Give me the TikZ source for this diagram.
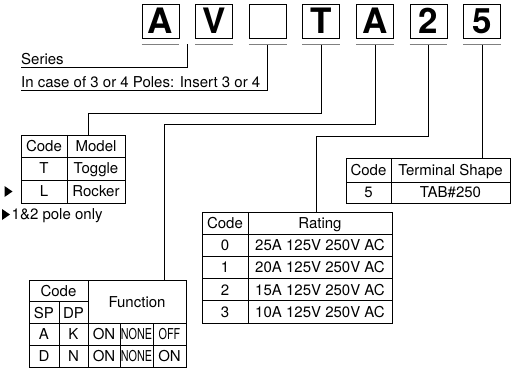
\documentclass[tikz,border=0pt]{standalone}
\usepackage{fontspec}
\setmainfont{TeX Gyre Heros}
\usetikzlibrary{positioning}

\tikzset{
  letterbox/.style={draw, line width=0.8pt, minimum width=37pt, minimum height=34pt, inner sep=0pt, font=\fontsize{35}{35}\selectfont\bfseries},
  cell/.style={inner sep=0pt, text height=10.8pt, text depth=0pt, font=\fontsize{15}{15}\selectfont},
  caption/.style={cell, anchor=south west, inner ysep=2.5pt},
  grid/.style={line width=0.9pt},
  lead/.style={line width=0.8pt},
  underbar/.style={line width=1.6pt, black!50},
}
\newcommand{\narrowtxt}[1]{\scalebox{0.72}[1]{#1}}

\begin{document}
\begin{tikzpicture}[x=1pt,y=-1pt]
            \useasboundingbox (0,0) rectangle (512,369);

            % 型号方框
            \node[letterbox] (b1) at (160.5,21) {A};
            \node[letterbox, right=15.8pt of b1] (b2) {V};
            \node[letterbox, right=15.8pt of b2] (b3) {};
            \node[letterbox, right=15.8pt of b3] (b4) {T};
            \node[letterbox, right=15.8pt of b4] (b5) {A};
            \node[letterbox, right=15.8pt of b5] (b6) {2};
            \node[letterbox, right=15.8pt of b6] (b7) {5};

            % 方框下划线与引线起点
            \foreach \i in {1,...,7}{
                \draw[underbar] ([yshift=-6pt]b\i.south west)--([yshift=-6pt]b\i.south east);
                \coordinate (t\i) at ([yshift=-6.5pt]b\i.south);
            }
            \coordinate (g12) at (187,44.5);

            % 系列说明
            \node[caption] (series) at (21,67) {Series};
            \node[caption] (poles) at (21,90) {In case of 3 or 4 Poles: Insert 3 or 4};
            \draw[lead] (g12) |- (series.south west);
            \draw[lead] (t3) |- (poles.south west);

            % 表格入口
            \coordinate (mIn) at (88,135);
            \coordinate (fIn) at (164,280);
            \coordinate (rIn) at (316,212);
            \coordinate (kIn) at (478,158);

            % 引线
            \draw[lead] (t4)--++(0,68.5) -| (mIn);
            \draw[lead] (t5)--++(0,79.5) -| (fIn);
            \draw[lead] (t6)--++(0,91.5) -| (rIn);
            \draw[lead] (t7)--(t7 |- kIn);

            % Model 表
            \draw[grid] (21,135) rectangle (125,203);
            \draw[grid] (67,135)--(67,203) (21,157)--(125,157) (21,180)--(125,180);
            \node[cell] (mc) at (44,146) {Code};
            \node[cell] (mm) at (96,146) {Model};
            \node[cell] (mT) at (44,168.5) {T};
            \node[cell] (mTn) at (96,168.5) {Toggle};
            \node[cell] (mL) at (44,191.5) {L};
            \node[cell] (mLn) at (96,191.5) {Rocker};

            % 三角标记
            \fill (4.5,186) -- (12.5,191.5) -- (4.5,197) -- cycle;
            \fill (2,209) -- (10,214.5) -- (2,220) -- cycle;
            \node[cell, anchor=west] (note) at (11.5,214.5) {1\&2 pole only};

            % Terminal 表
            \draw[grid] (346,158) rectangle (510,203);
            \draw[grid] (391,158)--(391,203) (346,182)--(510,182);
            \node[cell] (kc) at (368.5,170) {Code};
            \node[cell] (ks) at (450.5,170) {Terminal Shape};
            \node[cell] (k5) at (368.5,192.5) {5};
            \node[cell] (k5n) at (450.5,192.5) {TAB\#250};

            % Rating 表
            \draw[grid] (202,212) rectangle (392,323);
            \draw[grid] (248,212)--(248,323);
            \foreach \y in {234.2,256.4,278.6,300.8}
                \draw[grid] (202,\y)--(392,\y);
            \node[cell] (rc) at (225,223.1) {Code};
            \node[cell] (rr) at (320,223.1) {Rating};
            \foreach \c/\a [count=\k] in {0/25,1/20,2/15,3/10}{
                \node[cell] (rc\k) at (225,223.1+22.2*\k) {\c};
                \node[cell] (rr\k) at (320,223.1+22.2*\k) {\a A 125V 250V AC};
            }

            % Function 表
            \draw[grid] (29,280) rectangle (186,367);
            \draw[grid] (88,280)--(88,367) (59,301.75)--(59,367);
            \draw[grid] (120,323.5)--(120,367) (153,323.5)--(153,367);
            \draw[grid] (29,301.75)--(88,301.75) (29,323.5)--(186,323.5) (29,345.25)--(186,345.25);
            \node[cell] (fc) at (58.5,290.9) {Code};
            \node[cell] (fsp) at (44,312.6) {SP};
            \node[cell] (fdp) at (73.5,312.6) {DP};
            \node[cell] (ff) at (137,301.75) {Function};
            \node[cell] (fA) at (44,334.4) {A};
            \node[cell] (fK) at (73.5,334.4) {K};
            \node[cell] (f1a) at (104,334.4) {ON};
            \node[cell] (f1b) at (136.5,334.4) {\narrowtxt{NONE}};
            \node[cell] (f1c) at (169.5,334.4) {\narrowtxt{OFF}};
            \node[cell] (fD) at (44,356.1) {D};
            \node[cell] (fN) at (73.5,356.1) {N};
            \node[cell] (f2a) at (104,356.1) {ON};
            \node[cell] (f2b) at (136.5,356.1) {\narrowtxt{NONE}};
            \node[cell] (f2c) at (169.5,356.1) {ON};
\end{tikzpicture}
\end{document}
